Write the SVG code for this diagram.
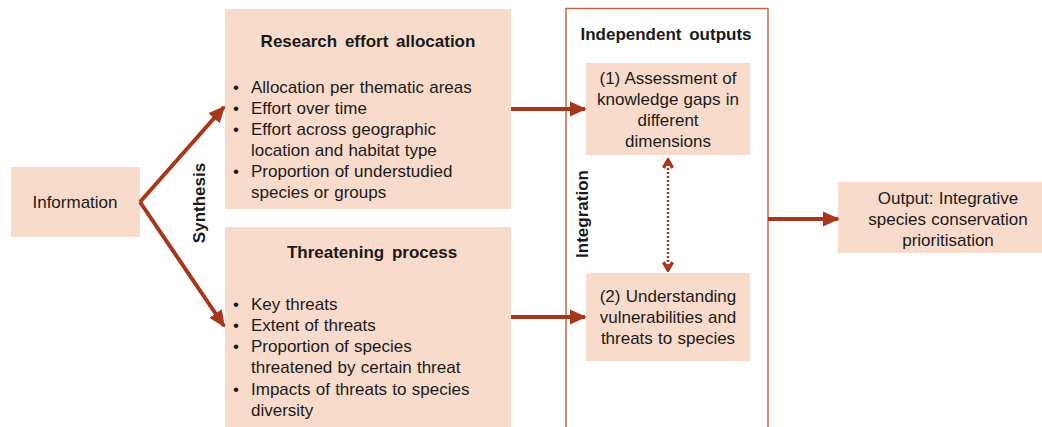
<svg xmlns="http://www.w3.org/2000/svg" width="1042" height="427" viewBox="0 0 1042 427">
<defs>
<style>
.box{fill:#F9DBCB;}
.t{font-family:"Liberation Sans",Arial,sans-serif;font-size:17px;fill:#1a1a1a;word-spacing:0.5px;}
.b{font-weight:bold;word-spacing:3px;}
.c{text-anchor:middle;}
.conn{stroke:#A8361A;stroke-width:4;fill:none;}
</style>
<marker id="ah" viewBox="0 0 10 10" refX="9" refY="5" markerWidth="4.2" markerHeight="4.2" orient="auto" markerUnits="strokeWidth">
<path d="M0,0.5 L10,5 L0,9.5 z" fill="#A8361A"/>
</marker>
<marker id="vh" viewBox="0 0 10 10" refX="8" refY="5" markerWidth="4.8" markerHeight="6" orient="auto-start-reverse" markerUnits="strokeWidth">
<path d="M1.5,1.2 L8,5 L1.5,8.8" fill="none" stroke="#A8361A" stroke-width="2.8"/>
</marker>
</defs>
<rect width="1042" height="427" fill="#fff"/>

<g id="integration-box">
<rect x="566" y="8.5" width="202" height="430" fill="#fff" stroke="#C06A45" stroke-width="1.5"/>
<text class="t b c" x="666" y="40">Independent outputs</text>
<text class="t b c" transform="translate(588,214) rotate(-90)">Integration</text>
</g>

<g id="information">
<rect class="box" x="11" y="167" width="129" height="70"/>
<text class="t c" x="75" y="208">Information</text>
</g>

<g id="research">
<rect class="box" x="225" y="9" width="286" height="200"/>
<text class="t b c" x="368" y="47">Research effort allocation</text>
<text class="t" x="233" y="93">•</text><text class="t" x="251" y="93">Allocation per thematic areas</text>
<text class="t" x="233" y="114">•</text><text class="t" x="251" y="114">Effort over time</text>
<text class="t" x="233" y="135">•</text><text class="t" x="251" y="135">Effort across geographic</text>
<text class="t" x="251" y="156">location and habitat type</text>
<text class="t" x="233" y="177">•</text><text class="t" x="251" y="177">Proportion of understudied</text>
<text class="t" x="251" y="198">species or groups</text>
</g>

<g id="threatening">
<rect class="box" x="225" y="227" width="286" height="210"/>
<text class="t b c" x="372" y="258">Threatening process</text>
<text class="t" x="233" y="310">•</text><text class="t" x="251" y="310">Key threats</text>
<text class="t" x="233" y="331">•</text><text class="t" x="251" y="331">Extent of threats</text>
<text class="t" x="233" y="352">•</text><text class="t" x="251" y="352">Proportion of species</text>
<text class="t" x="251" y="373">threatened by certain threat</text>
<text class="t" x="233" y="395">•</text><text class="t" x="251" y="395">Impacts of threats to species</text>
<text class="t" x="251" y="416">diversity</text>
</g>

<g id="output1">
<rect class="box" x="586" y="63" width="164" height="92"/>
<text class="t c" x="668" y="84">(1) Assessment of</text>
<text class="t c" x="668" y="105">knowledge gaps in</text>
<text class="t c" x="668" y="126">different</text>
<text class="t c" x="668" y="147">dimensions</text>
</g>

<g id="output2">
<rect class="box" x="586" y="273" width="164" height="88"/>
<text class="t c" x="668" y="302">(2) Understanding</text>
<text class="t c" x="668" y="323">vulnerabilities and</text>
<text class="t c" x="668" y="344">threats to species</text>
</g>

<g id="final-output">
<rect class="box" x="838" y="182" width="210" height="71"/>
<text class="t c" x="948" y="204">Output: Integrative</text>
<text class="t c" x="948" y="225">species conservation</text>
<text class="t c" x="948" y="246">prioritisation</text>
</g>

<g id="connectors">
<line class="conn" x1="140" y1="202" x2="224" y2="107" marker-end="url(#ah)"/>
<line class="conn" x1="140" y1="202" x2="224" y2="326" marker-end="url(#ah)"/>
<line class="conn" x1="511" y1="109" x2="585" y2="109" marker-end="url(#ah)"/>
<line class="conn" x1="511" y1="317" x2="585" y2="317" marker-end="url(#ah)"/>
<line class="conn" x1="768" y1="219" x2="838" y2="219" marker-end="url(#ah)"/>
<line x1="668" y1="160" x2="668" y2="270" stroke="#A8361A" stroke-width="2.5" stroke-dasharray="2 2" marker-start="url(#vh)" marker-end="url(#vh)"/>
<text class="t b c" transform="translate(205,203) rotate(-90)">Synthesis</text>
</g>
</svg>
